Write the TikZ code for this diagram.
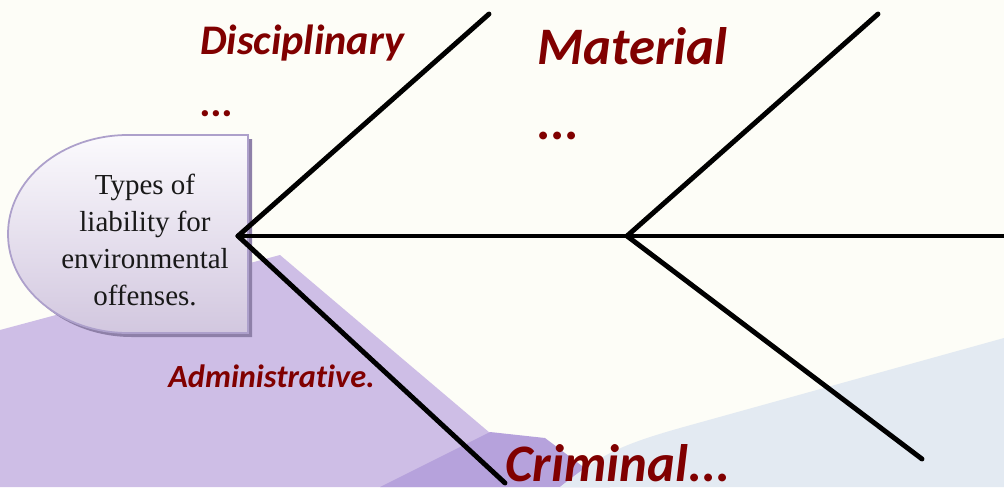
\documentclass[tikz,border=0pt]{standalone}
\usepackage{fontspec}
\setmainfont{Liberation Serif}
\newfontfamily\headfont{Liberation Serif}
\newfontfamily\causefont{Carlito}[Ligatures=NoCommon]
\usetikzlibrary{positioning}
\definecolor{BGcream}{HTML}{FDFDF7}
\definecolor{LilacLight}{HTML}{CEBEE6}
\definecolor{LilacDark}{HTML}{B6A2DC}
\definecolor{MistBlue}{HTML}{E3EAF2}
\definecolor{HeadEdge}{HTML}{ADA0CB}
\definecolor{HeadShadow}{HTML}{8E80A8}
\definecolor{HeadTop}{HTML}{FBFAFD}
\definecolor{HeadBottom}{HTML}{D2C7DF}
\definecolor{CauseRed}{HTML}{800000}

\begin{document}
\begin{tikzpicture}[x=0.02cm,y=-0.02cm,
  bone/.style={line width=2.8pt,line cap=round},
  cause/.style 2 args={font=\causefont\bfseries\itshape\fontsize{#1}{#2}\selectfont,
    text=CauseRed,inner sep=0pt,align=left}]
  \useasboundingbox (0,0) rectangle (1004,487);
  \fill[BGcream] (0,0) rectangle (1004,487);
  % soft background patches
  \fill[LilacLight] (0,330) -- (280,255) -- (490,433) -- (530,487) -- (0,487) -- cycle;
  \fill[LilacDark] (380,487) -- (490,432) -- (545,438) -- (610,487) -- cycle;
  \fill[MistBlue] (560,487) .. controls (600,455) and (620,445) .. (680,428) -- (1004,338) -- (1004,487) -- cycle;
  % fish head
  \fill[HeadShadow] (252,139) -- (132,139) arc[start angle=270,end angle=90,x radius=120,y radius=99] -- (252,337) -- cycle;
  \shade[top color=HeadTop,bottom color=HeadBottom,draw=HeadEdge,line width=1pt]
    (248,135) -- (128,135) arc[start angle=270,end angle=90,x radius=120,y radius=99] -- (248,333) -- cycle;
  \node[align=center,font=\headfont\fontsize{16.5}{21}\selectfont,text=black!90] (head) at (145,240)
    {Types of\\liability for\\environmental\\offenses.};
  % spine and bones
  \coordinate (j1) at (238,236);
  \coordinate (j2) at (627,236);
  \coordinate (tail) at (1004,236);
  \coordinate (u1) at (489,14);
  \coordinate (d1) at (505,483);
  \coordinate (u2) at (878,14);
  \coordinate (d2) at (922,459);
  \draw[bone] (j1) -- (tail);
  \draw[bone] (j1) -- (u1);
  \draw[bone] (j1) -- (d1);
  \draw[bone] (j2) -- (u2);
  \draw[bone] (j2) -- (d2);
  % causes
  \node[cause={24}{35},anchor=north west] (disc) at (200,25) {Disciplinary\\...};
  \node[cause={30}{43},anchor=north west] (mat) at (537,27) {Material\\...};
  \node[cause={18.4}{22},anchor=base west] (adm) at (168,387) {Administrative.};
  \node[cause={30}{36},anchor=base west] (crim) at (505,481) {Criminal...};
\end{tikzpicture}
\end{document}
